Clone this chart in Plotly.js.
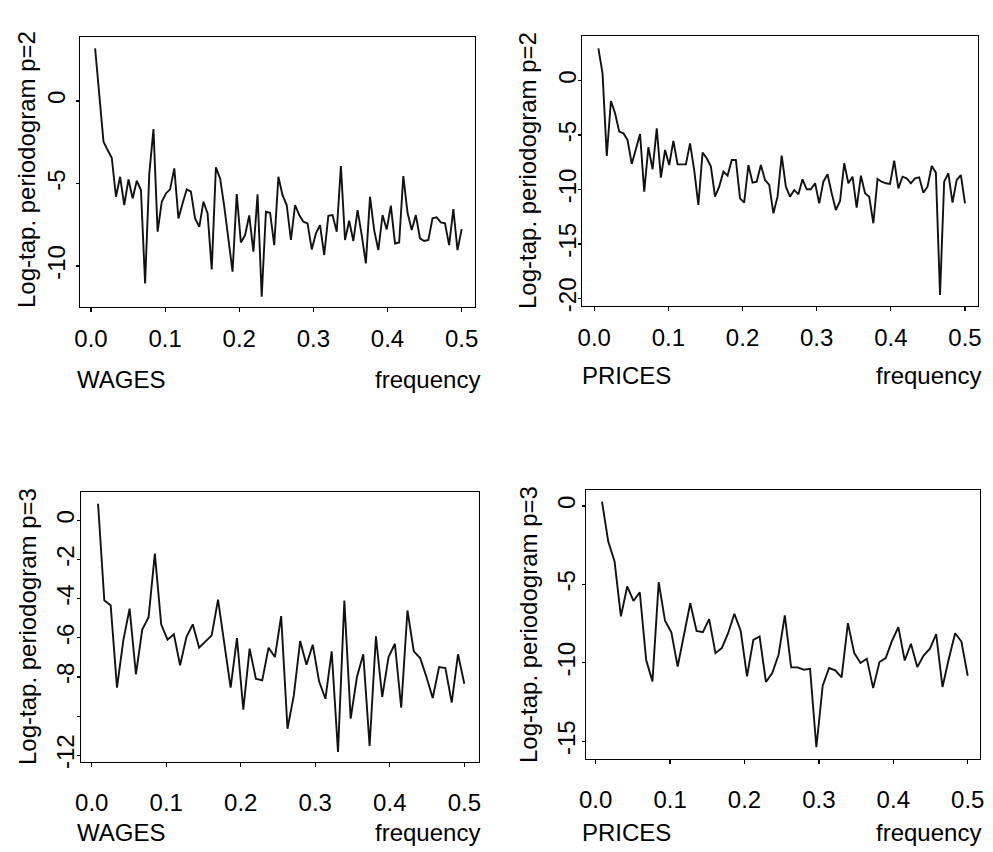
<!DOCTYPE html>
<html>
<head>
<meta charset="utf-8">
<script src="https://cdn.plot.ly/plotly-3.0.1.min.js"></script>
<style>html,body{margin:0;padding:0;background:#fff;}#chart{width:993px;height:852px;}</style>
</head>
<body>
<div id="chart"></div>
<script>
// Fourier frequencies (j/178 for the p=2 panels, j/118 for the p=3 panels)
const freqP2 = [0.0056,0.0112,0.0169,0.0225,0.0281,0.0337,0.0393,0.0449,0.0506,0.0562,
0.0618,0.0674,0.0730,0.0787,0.0843,0.0899,0.0955,0.1011,0.1067,0.1124,
0.1180,0.1236,0.1292,0.1348,0.1404,0.1461,0.1517,0.1573,0.1629,0.1685,
0.1742,0.1798,0.1854,0.1910,0.1966,0.2022,0.2079,0.2135,0.2191,0.2247,
0.2303,0.2360,0.2416,0.2472,0.2528,0.2584,0.2640,0.2697,0.2753,0.2809,
0.2865,0.2921,0.2978,0.3034,0.3090,0.3146,0.3202,0.3258,0.3315,0.3371,
0.3427,0.3483,0.3539,0.3596,0.3652,0.3708,0.3764,0.3820,0.3876,0.3933,
0.3989,0.4045,0.4101,0.4157,0.4213,0.4270,0.4326,0.4382,0.4438,0.4494,
0.4551,0.4607,0.4663,0.4719,0.4775,0.4831,0.4888,0.4944,0.5000];

const freqP3 = [0.0085,0.0169,0.0254,0.0339,0.0424,0.0508,0.0593,0.0678,0.0763,0.0847,
0.0932,0.1017,0.1102,0.1186,0.1271,0.1356,0.1441,0.1525,0.1610,0.1695,
0.1780,0.1864,0.1949,0.2034,0.2119,0.2203,0.2288,0.2373,0.2458,0.2542,
0.2627,0.2712,0.2797,0.2881,0.2966,0.3051,0.3136,0.3220,0.3305,0.3390,
0.3475,0.3559,0.3644,0.3729,0.3814,0.3898,0.3983,0.4068,0.4153,0.4237,
0.4322,0.4407,0.4492,0.4576,0.4661,0.4746,0.4831,0.4915,0.5000];

// Log-tapered periodogram values
const wagesP2 = [3.19,0.36,-2.46,-2.97,-3.45,-5.80,-4.59,-6.30,-4.75,-5.90,
-4.83,-5.39,-11.05,-4.38,-1.70,-7.92,-6.10,-5.60,-5.35,-4.08,
-7.11,-6.20,-5.35,-5.49,-7.11,-7.62,-6.10,-6.81,-10.20,-4.02,
-4.69,-6.40,-8.22,-10.34,-5.64,-8.57,-8.12,-6.93,-9.13,-5.66,
-11.86,-6.71,-6.77,-8.73,-4.59,-5.70,-6.30,-8.42,-6.30,-6.91,
-7.31,-7.41,-8.99,-8.02,-7.52,-9.33,-6.95,-6.91,-7.92,-3.94,
-8.42,-7.25,-8.48,-6.61,-8.12,-9.84,-5.80,-7.82,-9.03,-6.91,
-7.78,-6.34,-8.63,-8.57,-4.55,-6.77,-7.82,-6.91,-8.32,-8.48,
-8.42,-7.11,-7.05,-7.35,-7.41,-8.73,-6.55,-9.03,-7.76];

const pricesP2 = [2.97,0.67,-6.92,-1.87,-3.00,-4.68,-4.84,-5.45,-7.65,-6.22,
-4.90,-10.20,-6.12,-8.14,-4.38,-8.91,-6.37,-7.75,-5.54,-7.69,
-7.69,-7.69,-5.76,-8.21,-11.42,-6.61,-7.13,-7.90,-10.66,-9.74,
-8.36,-8.73,-7.29,-7.29,-10.81,-11.21,-7.75,-9.37,-9.28,-7.75,
-9.12,-9.58,-12.19,-10.66,-6.89,-9.74,-10.66,-10.04,-10.44,-9.06,
-9.98,-9.98,-9.43,-11.27,-9.28,-8.60,-10.35,-11.88,-11.05,-7.59,
-9.43,-8.82,-11.67,-8.73,-10.35,-10.66,-13.10,-9.03,-9.28,-9.43,
-9.49,-7.35,-9.89,-8.82,-8.97,-9.43,-8.97,-8.88,-10.29,-9.74,
-7.84,-8.45,-19.69,-9.28,-8.51,-11.21,-9.12,-8.67,-11.27];

const wagesP3 = [0.85,-4.09,-4.34,-8.54,-6.13,-4.51,-7.86,-5.58,-4.94,-1.70,
-5.31,-6.09,-5.82,-7.40,-5.96,-5.31,-6.50,-6.21,-5.87,-4.05,
-6.26,-8.54,-6.01,-9.67,-6.55,-8.09,-8.17,-6.50,-6.98,-4.89,
-10.64,-8.94,-6.16,-7.37,-6.35,-8.22,-9.11,-6.69,-11.83,-4.09,
-10.13,-8.00,-6.84,-11.52,-5.92,-9.02,-6.98,-6.30,-9.57,-4.60,
-6.69,-7.03,-8.00,-9.07,-7.49,-7.54,-9.31,-6.84,-8.34];

const pricesP3 = [0.28,-2.27,-3.54,-7.04,-5.13,-6.05,-5.50,-9.80,-11.18,-4.86,
-7.32,-8.06,-10.23,-8.11,-6.20,-7.96,-8.04,-7.21,-9.38,-9.06,
-8.11,-6.87,-7.96,-10.86,-8.53,-8.32,-11.22,-10.65,-9.48,-6.98,
-10.29,-10.29,-10.44,-10.38,-15.38,-11.46,-10.33,-10.48,-10.93,-7.47,
-9.38,-10.01,-9.74,-11.61,-9.95,-9.70,-8.59,-7.72,-9.85,-8.78,
-10.27,-9.53,-9.10,-8.17,-11.54,-9.74,-8.11,-8.64,-10.82];

// Tick labels
const xTickVals = [0, 0.1, 0.2, 0.3, 0.4, 0.5];
const xTickText = ["0.0", "0.1", "0.2", "0.3", "0.4", "0.5"];
const yTickValsA = [0, -5, -10];
const yTickTextA = ["0", "-5", "-10"];
const yTickValsB = [0, -5, -10, -15, -20];
const yTickTextB = ["0", "-5", "-10", "-15", "-20"];
const yTickValsC = [0, -2, -4, -6, -8, -10, -12];
const yTickTextC = ["0", "-2", "-4", "-6", "-8", "", "-12"];
const yTickValsD = [0, -5, -10, -15];
const yTickTextD = ["0", "-5", "-10", "-15"];

const seriesNames = ["WAGES", "PRICES", "WAGES", "PRICES"];
const yTitles = ["Log-tap. periodogram p=2", "Log-tap. periodogram p=2",
                 "Log-tap. periodogram p=3", "Log-tap. periodogram p=3"];
const xLabel = "frequency";

const W = 993, H = 852;
const FONT = {family: "Liberation Sans, Arial, Helvetica, sans-serif", size: 24, color: "#000"};
const lineStyle = {color: "#111", width: 1.9};

const traces = [
  {x: freqP2, y: wagesP2, xaxis: "x", yaxis: "y", type: "scatter", mode: "lines", line: lineStyle, hoverinfo: "skip"},
  {x: freqP2, y: pricesP2, xaxis: "x2", yaxis: "y2", type: "scatter", mode: "lines", line: lineStyle, hoverinfo: "skip"},
  {x: freqP3, y: wagesP3, xaxis: "x3", yaxis: "y3", type: "scatter", mode: "lines", line: lineStyle, hoverinfo: "skip"},
  {x: freqP3, y: pricesP3, xaxis: "x4", yaxis: "y4", type: "scatter", mode: "lines", line: lineStyle, hoverinfo: "skip"}
];

// panel boxes in pixels: [left, right, top, bottom]
const boxes = [[80, 475, 37, 307], [582, 978, 36, 306], [81, 479, 492, 762], [586, 980, 490, 759]];
const xRanges = [[-0.0148, 0.518], [-0.0165, 0.5175], [-0.0144, 0.5197], [-0.013, 0.5165]];
const yRanges = [[-12.48, 3.88], [-20.7, 4.1], [-12.34, 1.45], [-16.13, 1.02]];
const yTicks = [[yTickValsA, yTickTextA], [yTickValsB, yTickTextB], [yTickValsC, yTickTextC], [yTickValsD, yTickTextD]];
const xStandoff = [6, 6, 15, 15];
const yStandoff = [1, -8, -7, -3];

function xAxis(i) {
  const b = boxes[i];
  return {
    domain: [b[0] / W, b[1] / W], range: xRanges[i], anchor: i === 0 ? "y" : "y" + (i + 1),
    showline: true, mirror: true, linecolor: "#000", linewidth: 1.3,
    showgrid: false, zeroline: false, ticks: "outside", ticklen: 4, tickwidth: 1.2, tickcolor: "#000",
    tickvals: xTickVals, ticktext: xTickText, tickfont: FONT, ticklabelstandoff: xStandoff[i], fixedrange: true
  };
}
function yAxis(i) {
  const b = boxes[i];
  return {
    domain: [1 - b[3] / H, 1 - b[2] / H], range: yRanges[i], anchor: i === 0 ? "x" : "x" + (i + 1),
    showline: true, mirror: true, linecolor: "#000", linewidth: 1.3,
    showgrid: false, zeroline: false, ticks: "outside", ticklen: 3, tickwidth: 1.2, tickcolor: "#000",
    tickvals: yTicks[i][0], ticktext: yTicks[i][1], tickangle: -90, tickfont: FONT,
    ticklabelstandoff: yStandoff[i], fixedrange: true
  };
}

const annotations = [];
const nameY = [379, 376, 832, 832];
const nameX = [75, 580, 75, 580];
const freqX = [482, 983, 482, 983];
const titleX = [26, 527, 27, 528];
const titleY = [170, 171, 627, 625];
for (let i = 0; i < 4; i++) {
  annotations.push({xref: "paper", yref: "paper", x: nameX[i] / W, y: 1 - nameY[i] / H,
    xanchor: "left", yanchor: "middle", text: seriesNames[i], showarrow: false, font: FONT});
  annotations.push({xref: "paper", yref: "paper", x: freqX[i] / W, y: 1 - nameY[i] / H,
    xanchor: "right", yanchor: "middle", text: xLabel, showarrow: false, font: FONT});
  annotations.push({xref: "paper", yref: "paper", x: titleX[i] / W, y: 1 - titleY[i] / H,
    xanchor: "center", yanchor: "middle", text: yTitles[i], textangle: -90, showarrow: false, font: FONT});
}

const layout = {
  width: W, height: H, margin: {l: 0, r: 0, t: 0, b: 0},
  paper_bgcolor: "#fff", plot_bgcolor: "#fff", showlegend: false,
  font: FONT, annotations: annotations,
  xaxis: xAxis(0), yaxis: yAxis(0),
  xaxis2: xAxis(1), yaxis2: yAxis(1),
  xaxis3: xAxis(2), yaxis3: yAxis(2),
  xaxis4: xAxis(3), yaxis4: yAxis(3)
};

Plotly.newPlot("chart", traces, layout, {displayModeBar: false, staticPlot: true});
</script>
</body>
</html>
